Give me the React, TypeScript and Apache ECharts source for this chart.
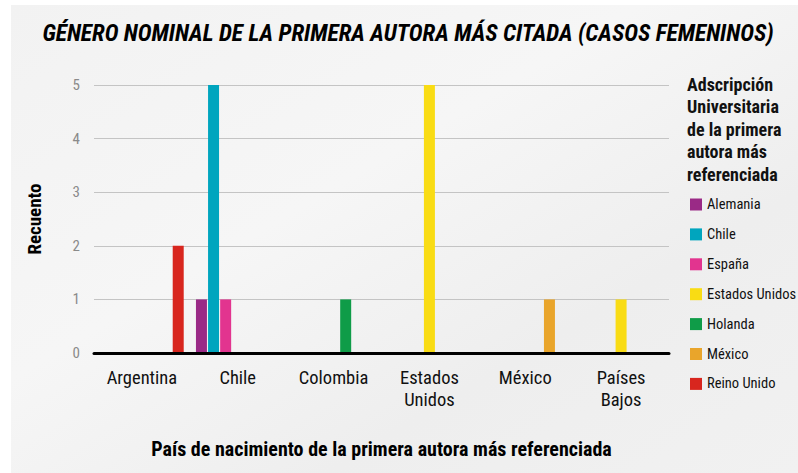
import React, { useEffect, useRef } from "react";
import * as echarts from "echarts";

const categories = ["Argentina", "Chile", "Colombia", "Estados\nUnidos", "México", "Países\nBajos"];
const seriesNames = ["Alemania", "Chile", "España", "Estados Unidos", "Holanda", "México", "Reino Unido"];
const alemania = [0, 1, 0, 0, 0, 0];
const chile = [0, 5, 0, 0, 0, 0];
const espana = [0, 1, 0, 0, 0, 0];
const estadosUnidos = [0, 0, 0, 5, 0, 1];
const holanda = [0, 0, 1, 0, 0, 0];
const mexico = [0, 0, 0, 0, 1, 0];
const reinoUnido = [2, 0, 0, 0, 0, 0];
const seriesValues = [alemania, chile, espana, estadosUnidos, holanda, mexico, reinoUnido];
const colors = ["#9A2A86", "#00A5BE", "#E2348F", "#F9DC14", "#0F9C48", "#E9A52B", "#D8261E"];

const FONT = "'Liberation Sans Narrow', 'Roboto Condensed', 'DejaVu Sans Condensed', Roboto, sans-serif";

export default function App() {
  const ref = useRef<HTMLDivElement>(null);
  useEffect(() => {
    if (!ref.current) return;
    const chart = echarts.init(ref.current, undefined, { renderer: "svg" });
    chart.setOption({
      animation: false,
      backgroundColor: "#ffffff",
      textStyle: { fontFamily: FONT },
      graphic: [
        {
          type: "rect",
          z: -10,
          silent: true,
          shape: { x: 11, y: 5, width: 787, height: 468 },
          style: {
            fill: new echarts.graphic.LinearGradient(0, 0, 1, 1, [
              { offset: 0, color: "#f2f2f2" },
              { offset: 0.4, color: "#f6f6f6" },
              { offset: 0.7, color: "#eeeeee" },
              { offset: 1, color: "#f1f1f1" },
            ]),
          },
        },
        {
          type: "text",
          x: 408,
          y: 21,
          style: {
            text: "GÉNERO NOMINAL DE LA PRIMERA AUTORA MÁS CITADA (CASOS FEMENINOS)",
            font: `italic bold 23.5px ${FONT}`,
            textAlign: "center",
            fill: "#000",
          },
        },
        {
          type: "text",
          left: 687,
          top: 73,
          style: {
            text: "Adscripción\nUniversitaria\nde la primera\nautora más\nreferenciada",
            font: `bold 18px ${FONT}`,
            lineHeight: 22.5,
            fill: "#111",
          },
        },
      ],
      grid: { left: 94, right: 129, top: 85, bottom: 120, containLabel: false },
      legend: {
        orient: "vertical",
        left: 690,
        top: 197,
        padding: 0,
        itemWidth: 12,
        itemHeight: 12,
        itemGap: 14.9,
        icon: "rect",
        selectedMode: false,
        textStyle: { fontFamily: FONT, fontSize: 14.5, color: "#111" },
        data: seriesNames,
      },
      xAxis: {
        type: "category",
        data: categories,
        name: "País de nacimiento de la primera autora más referenciada",
        nameLocation: "middle",
        nameGap: 86,
        nameTextStyle: { fontFamily: FONT, fontSize: 20, fontWeight: "bold", color: "#000" },
        axisLine: { show: true, lineStyle: { color: "#000", width: 3 } },
        axisTick: { show: false },
        axisLabel: { fontFamily: FONT, fontSize: 18.5, color: "#111", margin: 14, lineHeight: 22, interval: 0 },
        z: 10,
      },
      yAxis: {
        type: "value",
        min: 0,
        max: 5,
        interval: 1,
        name: "Recuento",
        nameLocation: "middle",
        nameGap: 50,
        nameTextStyle: { fontFamily: FONT, fontSize: 19, fontWeight: "bold", color: "#000" },
        axisLine: { show: false },
        axisTick: { show: false },
        axisLabel: { fontFamily: FONT, fontSize: 15, color: "#8a8a8a", margin: 14 },
        splitLine: { lineStyle: { color: "#c4c4c4", width: 1 } },
      },
      series: seriesNames.map((name, i) => ({
        name,
        type: "bar",
        data: seriesValues[i],
        barWidth: 11,
        barGap: "10%",
        itemStyle: { color: colors[i] },
      })),
    });
    return () => chart.dispose();
  }, []);
  return (
    <div style={{ position: "absolute", left: 0, top: 0 }}>
      <div ref={ref} style={{ width: 798, height: 473 }} />
    </div>
  );
}
